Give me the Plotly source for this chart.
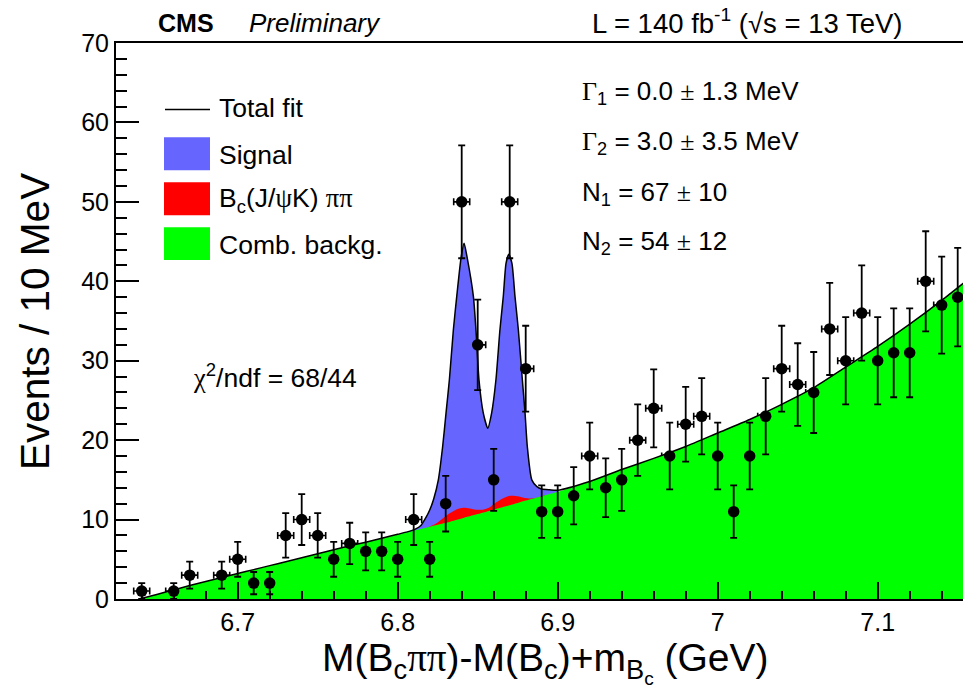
import plotly.graph_objects as go

# ---------------- data ----------------
data_x = [6.64, 6.66, 6.67, 6.69, 6.70, 6.71, 6.72, 6.73, 6.74, 6.75,
          6.76, 6.77, 6.78, 6.79, 6.80, 6.81, 6.82, 6.83, 6.84, 6.85,
          6.86, 6.87, 6.88, 6.89, 6.90, 6.91, 6.92, 6.93, 6.94, 6.95,
          6.96, 6.97, 6.98, 6.99, 7.00, 7.01, 7.02, 7.03, 7.04, 7.05,
          7.06, 7.07, 7.08, 7.09, 7.10, 7.11, 7.12, 7.13, 7.14, 7.15]
data_y = [1, 1, 3, 3, 5, 2, 2, 8, 10, 8,
          5, 7, 6, 6, 5, 10, 5, 12, 50, 32,
          15, 50, 29, 11, 11, 13, 18, 14, 15, 20,
          24, 18, 22, 23, 18, 11, 18, 23, 29, 27,
          26, 34, 30, 36, 30, 31, 31, 40, 37, 38]
data_err = [1.0, 1.0, 1.7, 1.7, 2.2, 1.4, 1.4, 2.8, 3.2, 2.8,
            2.2, 2.6, 2.4, 2.4, 2.2, 3.2, 2.2, 3.5, 7.1, 5.7,
            3.9, 7.1, 5.4, 3.3, 3.3, 3.6, 4.2, 3.7, 3.9, 4.5,
            4.9, 4.2, 4.7, 4.8, 4.2, 3.3, 4.2, 4.8, 5.4, 5.2,
            5.1, 5.8, 5.5, 6.0, 5.5, 5.6, 5.6, 6.3, 6.1, 6.2]
bin_half_width = 0.005

# combinatorial background curve
bkg_x = [6.6385, 6.65, 6.66, 6.67, 6.68, 6.69, 6.70, 6.71, 6.72, 6.73,
         6.74, 6.75, 6.76, 6.77, 6.78, 6.79, 6.80, 6.81, 6.82, 6.83,
         6.84, 6.85, 6.86, 6.87, 6.88, 6.89, 6.90, 6.92, 6.94, 6.96,
         6.98, 7.00, 7.02, 7.04, 7.06, 7.08, 7.10, 7.12, 7.14, 7.16]
bkg_y = [0.0, 0.6, 1.15, 1.7, 2.2, 2.7, 3.2, 3.7, 4.2, 4.7,
         5.2, 5.7, 6.2, 6.7, 7.15, 7.65, 8.1, 8.6, 9.1, 9.6,
         10.15, 10.7, 11.25, 11.8, 12.4, 12.95, 13.5, 14.8, 16.3, 17.7,
         19.2, 20.9, 22.6, 24.5, 26.6, 29.2, 31.8, 34.6, 37.6, 40.8]

# top of the B_c(J/psi K) pi pi component (stacked on the background)
refl_x = [6.818, 6.824, 6.8285, 6.833, 6.837, 6.841, 6.845, 6.849, 6.853,
          6.857, 6.861, 6.865, 6.869, 6.8725, 6.877, 6.882, 6.887, 6.892]
refl_y = [8.95, 9.5, 10.2, 10.85, 11.3, 11.5, 11.4, 11.25, 11.25,
          11.5, 12.1, 12.6, 12.95, 13.0, 12.85, 12.65, 12.75, 13.05]

# total fit in the signal region
tot_x = [6.800, 6.806, 6.811, 6.8145, 6.8175, 6.8200, 6.8225, 6.8254, 6.8281,
         6.8302, 6.8323, 6.8348, 6.8369, 6.8397, 6.8415, 6.8433, 6.8473,
         6.8489, 6.8508, 6.8535, 6.8563, 6.8587, 6.8614, 6.8639, 6.8660,
         6.8677, 6.8694, 6.8714, 6.8733, 6.8754, 6.8779, 6.8796, 6.8810,
         6.8838, 6.8870, 6.8900, 6.8950, 6.9000]
tot_y = [8.15, 8.45, 8.8, 9.25, 10.2, 11.2, 12.6, 15.0, 19.2,
         23.4, 27.6, 33.9, 38.1, 43.1, 44.8, 43.1, 38.1,
         33.9, 27.6, 23.4, 21.5, 23.4, 27.6, 33.9, 38.1,
         42.25, 43.4, 42.25, 38.1, 33.9, 27.6, 23.4, 19.2,
         15.0, 14.15, 13.85, 13.75, 13.7]

x_ticks_dtick = 0.1
y_ticks_dtick = 10

BLUE = "rgb(102,102,255)"
RED = "rgb(255,0,0)"
GREEN = "rgb(0,255,0)"
FONT = "Liberation Sans, Arial, Helvetica, sans-serif"
SERIF = "Liberation Serif, Times New Roman, serif"

W, H = 963, 698
L, R, T, B = 116, 0, 42.5, 98.5
PW, PH = W - L - R, H - T - B


def px(x):
    return (x - L) / PW


def py(y):
    return (H - B - y) / PH


def sym(s):
    return f"<span style='font-family:{SERIF}'>{s}</span>"


fig = go.Figure()

# horizontal error bars (drawn first: fills cover them, as in the original)
fig.add_trace(go.Scatter(
    x=data_x, y=data_y, mode="markers",
    marker=dict(size=1, color="rgba(0,0,0,0)"),
    error_x=dict(type="constant", value=bin_half_width, color="black",
                 thickness=1.6, width=3.5),
    hoverinfo="skip", showlegend=False))

# signal (blue) region, under the other components
fig.add_trace(go.Scatter(
    x=tot_x, y=tot_y, mode="lines", fill="tozeroy", fillcolor=BLUE,
    line=dict(width=0, shape="spline", smoothing=0.6), showlegend=False))
# B_c(J/psi K) pi pi component (red)
fig.add_trace(go.Scatter(
    x=refl_x, y=refl_y, mode="lines", fill="tozeroy", fillcolor=RED,
    line=dict(width=0, shape="spline", smoothing=0.8), showlegend=False))
# combinatorial background (green)
fig.add_trace(go.Scatter(
    x=bkg_x, y=bkg_y, mode="lines", fill="tozeroy", fillcolor=GREEN,
    line=dict(width=0, shape="spline", smoothing=0.8), showlegend=False))

# total fit line
tx = [x for x in bkg_x if x < tot_x[0]] + tot_x + [x for x in bkg_x if x > tot_x[-1]]
ty = ([y for x, y in zip(bkg_x, bkg_y) if x < tot_x[0]] + tot_y +
      [y for x, y in zip(bkg_x, bkg_y) if x > tot_x[-1]])
fig.add_trace(go.Scatter(
    x=tx, y=ty, mode="lines",
    line=dict(color="black", width=1.5, shape="spline", smoothing=0.6),
    showlegend=False))

# data points with vertical error bars
fig.add_trace(go.Scatter(
    x=data_x, y=data_y, mode="markers",
    marker=dict(size=11.5, color="black"),
    error_y=dict(type="data", array=data_err, color="black",
                 thickness=1.8, width=3.5),
    showlegend=False))

ann = []


def text(x, y, s, size=25, anchor="left", **kw):
    ann.append(dict(x=px(x), y=py(y), xref="paper", yref="paper", text=s,
                    showarrow=False, xanchor=anchor, yanchor="middle",
                    font=dict(family=FONT, size=size, color="black"), **kw))


# header
text(156, 22, "<b>CMS</b>", size=25)
text(247, 22, "<i>Preliminary</i>", size=26)
text(590, 21, "L = 140 fb<sup>-1</sup> (√s = 13 TeV)", size=27.5)

# legend
shapes = [dict(type="line", xref="paper", yref="paper",
               x0=px(165), x1=px(210), y0=py(109), y1=py(109),
               line=dict(color="black", width=1.5))]
for (y0, y1, c) in [(137, 170, BLUE), (182, 215, RED), (227, 260, GREEN)]:
    shapes.append(dict(type="rect", xref="paper", yref="paper",
                       x0=px(164), x1=px(210), y0=py(y1), y1=py(y0),
                       fillcolor=c, line=dict(width=0), layer="above"))
text(217, 108, "Total fit", size=26.5)
text(217, 155, "Signal", size=26.5)
text(217, 200, "B<sub>c</sub>(J/" + sym("ψ") + "K) " + sym("ππ"), size=26.5)
text(217, 245, "Comb. backg.", size=26.5)

# fit results
text(580, 92, sym("Γ") + "<sub>1</sub> = 0.0 " + sym("±") + " 1.3 MeV", size=26)
text(580, 142, sym("Γ") + "<sub>2</sub> = 3.0 " + sym("±") + " 3.5 MeV", size=26)
text(580, 193, "N<sub>1</sub> = 67 " + sym("±") + " 10", size=26)
text(580, 242, "N<sub>2</sub> = 54 " + sym("±") + " 12", size=26)
text(191, 376, sym("χ") + "<sup>2</sup>/ndf = 68/44", size=26.5)

# axis titles
text(545, 663, "M(B<sub>c</sub>" + sym("ππ") + ")-M(B<sub>c</sub>)+m<sub>B<sub>c</sub></sub> (GeV)",
     size=39, anchor="center")
text(35, 322, "Events / 10 MeV", size=40.5, anchor="center", textangle=-90)

fig.update_layout(
    width=W, height=H,
    margin=dict(l=L, r=R, t=T, b=B, pad=0),
    plot_bgcolor="white", paper_bgcolor="white",
    annotations=ann, shapes=shapes,
    font=dict(family=FONT, size=25, color="black"),
    xaxis=dict(range=[6.62394, 7.15331], tick0=6.7, dtick=x_ticks_dtick,
               ticks="inside", ticklen=17, tickwidth=1.5, tickcolor="black",
               showline=True, linecolor="black", linewidth=2, mirror=True,
               showgrid=False, zeroline=False,
               tickfont=dict(family=FONT, size=25),
               minor=dict(dtick=0.02, tick0=6.7, ticks="inside", ticklen=8.5,
                          tickwidth=1.5, tickcolor="black", showgrid=False)),
    yaxis=dict(range=[0, 70], tick0=0, dtick=y_ticks_dtick,
               ticks="inside", ticklen=23, tickwidth=1.5, tickcolor="black",
               showline=True, linecolor="black", linewidth=2,
               showgrid=False, zeroline=False,
               tickfont=dict(family=FONT, size=25),
               minor=dict(dtick=2, ticks="inside", ticklen=11,
                          tickwidth=1.5, tickcolor="black", showgrid=False)),
)

fig.write_html("out.html")
